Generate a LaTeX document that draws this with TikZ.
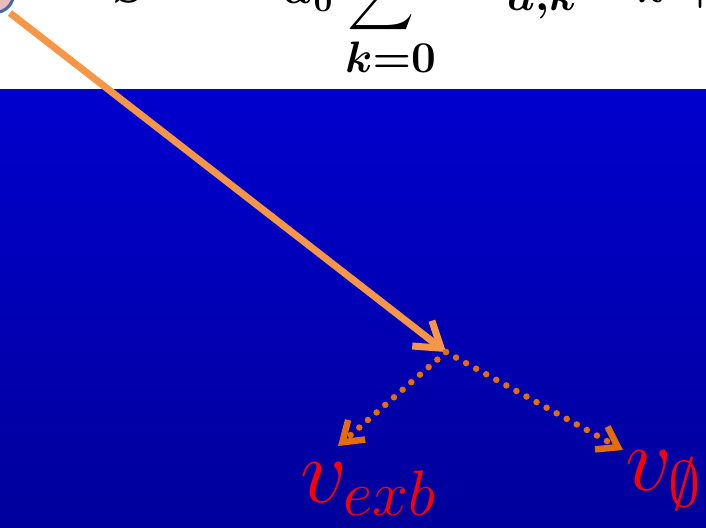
\RequirePackage{fix-cm}
\documentclass[tikz,border=0pt]{standalone}
\usepackage{graphicx}
\usetikzlibrary{arrows.meta}
\definecolor{lineorange}{RGB}{247,150,70}
\definecolor{dotorange}{RGB}{228,108,10}
\definecolor{bluetop}{RGB}{0,0,206}
\definecolor{bluebot}{RGB}{0,0,155}
\definecolor{ringblue}{RGB}{65,105,165}
\definecolor{ringfill}{RGB}{232,188,186}
\tikzset{
  formula/.style={inner sep=0pt, anchor=base west, text=black, font=\fontsize{48}{52}\selectfont\boldmath},
  vlabel/.style={inner sep=0pt, anchor=base west, text=red, font=\fontsize{92}{96}\selectfont},
  mainarrow/.style={draw=lineorange, line width=7pt, -{Straight Barb[length=24pt,width=32pt]}},
  dotarrow/.style={draw=dotorange, line width=6.5pt, line cap=round, dash pattern=on 0pt off 11.5pt, -{Straight Barb[length=19pt,width=26pt]}}
}
\begin{document}
\begin{tikzpicture}[x=1pt,y=-1pt]
\useasboundingbox (0,0) rectangle (706,527);
\clip (0,0) rectangle (706,527);
% blue panel
\shade[top color=bluetop,bottom color=bluebot] (0,89) rectangle (706,527);
% formula fragments (cut off at the top)
\node[formula] (fS) at (112,3) {$S$};
\node[formula] (fa0) at (283,4) {$a_0$};
\node[inner sep=0pt, anchor=south west, text=black] (fsum) at (347,34) {\scalebox{4.65}{$\displaystyle\sum$}};
\node[formula, font=\fontsize{44}{48}\selectfont\boldmath] (fk0) at (345,73) {$k{=}0$};
\node[formula, font=\fontsize{44}{48}\selectfont\boldmath] (fak) at (507,10.5) {$a{,}k$};
\node[formula] (fk1) at (637,3) {$k+1$};
% circle at top-left
\draw[ringblue, line width=3pt, fill=ringfill] (-5,-6) circle[radius=18.5pt];
% connectors
\coordinate (start) at (10,13);
\coordinate (hit) at (446,352);
\coordinate (exbtip) at (338,446);
\coordinate (phitip) at (623,450);
\draw[mainarrow] (start) -- (hit);
\draw[dotarrow] (hit) -- (exbtip);
\draw[dotarrow] (hit) -- (phitip);
% labels
\node[vlabel] (vexb) at (300,502) {$v_{exb}$};
\node[vlabel] (vphi) at (625,490) {$v_{\emptyset}$};
\end{tikzpicture}
\end{document}
